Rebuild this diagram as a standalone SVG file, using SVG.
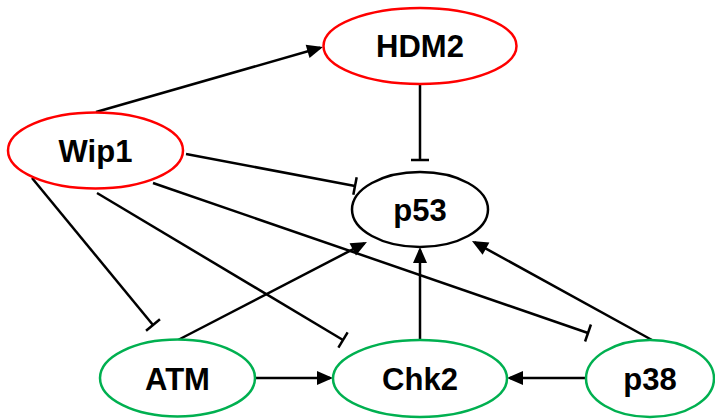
<svg xmlns="http://www.w3.org/2000/svg" width="715" height="419" viewBox="0 0 715 419">
  <style>
    .node ellipse { fill: #ffffff; stroke-width: 2.5; }
    .neg ellipse { stroke: #ff0000; }
    .pos ellipse { stroke: #00b050; }
    .core ellipse { stroke: #000000; }
    .node text { font-family: "Liberation Sans", Arial, sans-serif; font-weight: bold; font-size: 31px; fill: #000000; text-anchor: middle; }
    .edge { stroke: #000000; stroke-width: 2.5; fill: none; }
    .act { marker-end: url(#arrow); }
    .inh { marker-end: url(#tee); }
  </style>
  <defs>
    <marker id="arrow" markerUnits="userSpaceOnUse" markerWidth="18" markerHeight="16" viewBox="0 -8 17 16" refX="13" refY="0" orient="auto">
      <path d="M0,-7 L16,0 L0,7 Z" fill="#000000"/>
    </marker>
    <marker id="tee" markerUnits="userSpaceOnUse" markerWidth="4" markerHeight="22" viewBox="-2 -11 4 22" refX="0" refY="0" orient="auto">
      <line x1="0" y1="-9" x2="0" y2="9" stroke="#000000" stroke-width="2.5"/>
    </marker>
  </defs>

  <!-- connectors -->
  <g id="edges">
    <line class="edge act" x1="96" y1="112" x2="320.1" y2="47.8"/>
    <line class="edge inh" x1="420" y1="84" x2="420" y2="160"/>
    <line class="edge inh" x1="186" y1="154" x2="355" y2="186"/>
    <line class="edge inh" x1="32" y1="178" x2="153" y2="325"/>
    <line class="edge inh" x1="97" y1="193" x2="343" y2="340"/>
    <line class="edge inh" x1="153" y1="183" x2="588" y2="333"/>
    <line class="edge act" x1="178" y1="340" x2="364.3" y2="243.4"/>
    <line class="edge act" x1="420" y1="340" x2="420" y2="250"/>
    <line class="edge act" x1="652" y1="340" x2="474.6" y2="242.4"/>
    <line class="edge act" x1="255" y1="378" x2="330" y2="378"/>
    <line class="edge act" x1="586" y1="378" x2="510" y2="378"/>
  </g>

  <!-- nodes -->
  <g id="HDM2" class="node neg">
    <ellipse cx="420" cy="46" rx="96.5" ry="38"/>
    <text x="420" y="57">HDM2</text>
  </g>
  <g id="Wip1" class="node neg">
    <ellipse cx="95.5" cy="150.5" rx="87.5" ry="38"/>
    <text x="95.5" y="162">Wip1</text>
  </g>
  <g id="p53" class="node core">
    <ellipse cx="420" cy="209.5" rx="68" ry="37.5"/>
    <text x="420" y="221">p53</text>
  </g>
  <g id="ATM" class="node pos">
    <ellipse cx="177.5" cy="378" rx="77.5" ry="38.5"/>
    <text x="177.5" y="389.5">ATM</text>
  </g>
  <g id="Chk2" class="node pos">
    <ellipse cx="420" cy="378.5" rx="87" ry="38.5"/>
    <text x="420" y="390">Chk2</text>
  </g>
  <g id="p38" class="node pos">
    <ellipse cx="650" cy="378.5" rx="64" ry="38.5"/>
    <text x="650" y="390">p38</text>
  </g>
</svg>
